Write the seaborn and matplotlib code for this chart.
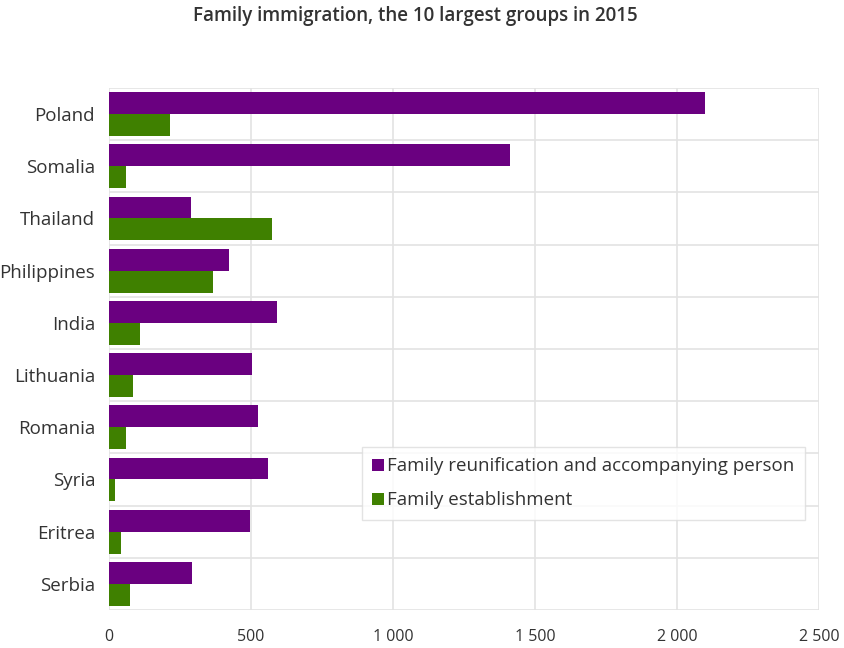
import matplotlib
matplotlib.use("Agg")
import matplotlib.pyplot as plt
import seaborn as sns
import pandas as pd
from matplotlib.ticker import FixedLocator, FuncFormatter

countries = ["Poland", "Somalia", "Thailand", "Philippines", "India",
             "Lithuania", "Romania", "Syria", "Eritrea", "Serbia"]
reunification = [2100, 1412, 290, 423, 592, 505, 525, 560, 497, 292]
establishment = [215, 60, 574, 366, 109, 85, 60, 22, 42, 74]
series_names = ["Family reunification and accompanying person", "Family establishment"]
colors = ["#6a0080", "#3f8000"]
xticks = [0, 500, 1000, 1500, 2000, 2500]

df = pd.DataFrame({
    "country": countries * 2,
    "value": reunification + establishment,
    "series": [series_names[0]] * len(countries) + [series_names[1]] * len(countries),
})

sns.set_theme(style="white")
plt.rcParams['font.family'] = ['Open Sans', 'DejaVu Sans']

fig = plt.figure(figsize=(8.45, 6.48), dpi=100)
ax = fig.add_axes([109/845, 1 - 610/648, 710/845, 522/648])

sns.barplot(data=df, y="country", x="value", hue="series", order=countries,
            hue_order=series_names, palette=colors, width=0.84, orient="h",
            saturation=1, ax=ax, linewidth=0)

ax.set_xlim(0, 2500)
ax.set_ylim(len(countries) - 0.5, -0.5)
ax.xaxis.set_major_locator(FixedLocator(xticks))
ax.xaxis.set_major_formatter(FuncFormatter(lambda v, p: f"{int(v):,}".replace(",", " ")))
ax.yaxis.set_minor_locator(FixedLocator([i + 0.5 for i in range(-1, len(countries))]))
ax.grid(True, axis="x", which="major", color="#e3e3e3", linewidth=1.2)
ax.grid(True, axis="y", which="minor", color="#e3e3e3", linewidth=1.2)
ax.grid(False, axis="y", which="major")
ax.set_axisbelow(True)
for s in ax.spines.values():
    s.set_visible(False)
ax.tick_params(axis="both", which="both", length=0)
ax.tick_params(axis="x", pad=14, labelsize=11.5, labelcolor="#333333")
ax.tick_params(axis="y", pad=10, labelsize=13.5, labelcolor="#333333")
ax.set_xlabel("")
ax.set_ylabel("")

leg = ax.legend(loc="upper left", bbox_to_anchor=((362-109)/710, (610-447)/522),
                borderaxespad=0, frameon=True, fancybox=False, fontsize=13.5,
                handlelength=0.6, handleheight=0.6, handletextpad=0.2,
                labelspacing=0.85, borderpad=0.55, labelcolor="#333333")
leg.get_frame().set_edgecolor("#dddddd")
leg.get_frame().set_linewidth(1)

fig.text(415/845, 1 - 16/648, "Family immigration, the 10 largest groups in 2015",
         ha="center", va="center", fontsize=13.5, fontweight="semibold", color="#333333")

fig.savefig("out.png", dpi=100)
